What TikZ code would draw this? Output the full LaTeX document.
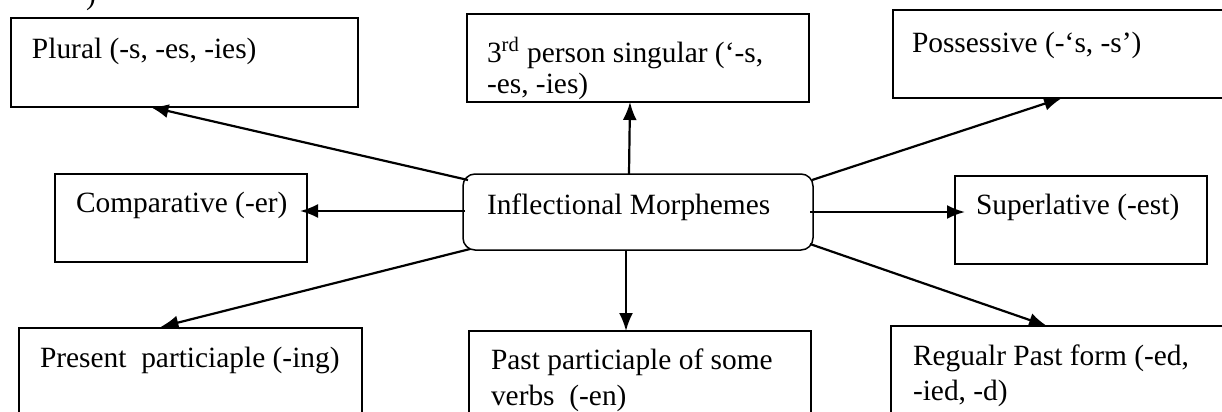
\documentclass[tikz,border=0pt]{standalone}
\usepackage{fontspec}
\setmainfont{Liberation Serif}
\usetikzlibrary{arrows.meta,calc}
\tikzset{
  box/.style={draw, line width=0.75pt, anchor=north west, inner sep=0pt, outer sep=0pt},
  hub/.style={box, rounded corners=6pt},
  lbl/.style={anchor=base west, inner sep=0pt, outer sep=0pt, align=left},
  arr/.style={line width=1.1pt, -{Latex[length=9pt,width=7pt]}}
}
\begin{document}
\begin{tikzpicture}[x=0.5pt,y=-0.5pt,font=\fontsize{14.7}{17}\selectfont]
\useasboundingbox (0,0) rectangle (1222,412);
% boxes
\node[box, minimum width=173.5pt, minimum height=44.5pt] (plural) at (11,18) {};
\node[box, minimum width=171pt, minimum height=44pt] (third) at (467,14) {};
\node[box, minimum width=165pt, minimum height=44pt] (poss) at (893,10) {};
\node[box, minimum width=126pt, minimum height=44pt] (comp) at (55,174) {};
\node[hub, minimum width=175pt, minimum height=38pt] (center) at (463,174) {};
\node[box, minimum width=126pt, minimum height=44pt] (sup) at (955,176) {};
\node[box, minimum width=171.5pt, minimum height=50pt] (pres) at (19,328) {};
\node[box, minimum width=171pt, minimum height=50pt] (past) at (469,331) {};
\node[box, minimum width=166pt, minimum height=50pt] (reg) at (891,326) {};
% texts
\node[lbl] (frag) at (86,4) {)};
\node[lbl] (tplural) at (32,58) {Plural (-s, -es, -ies)};
\node[lbl] (tthird) at (487,62) {3\textsuperscript{rd} person singular (‘-s,};
\node[lbl] (tthirdb) at (487,93) {-es, -ies)};
\node[lbl] (tposs) at (912,52) {Possessive (-‘s, -s’)};
\node[lbl] (tcomp) at (76,212) {Comparative (-er)};
\node[lbl] (tcenter) at (487,214) {Inflectional Morphemes};
\node[lbl] (tsup) at (976,214) {Superlative (-est)};
\node[lbl] (tpres) at (40,367) {Present\ \ particiaple (-ing)};
\node[lbl] (tpast) at (491,369) {Past particiaple of some};
\node[lbl] (tpastb) at (491,405) {verbs\ \ (-en)};
\node[lbl] (treg) at (913,365) {Regualr Past form (-ed,};
\node[lbl] (tregb) at (913,400) {-ied, -d)};
% connectors
\draw[arr] ($(center.north west)+(5,6)$) -- ($(plural.south)+(-34,0)$);
\draw[arr] ($(center.north)+(-9,0)$) -- ($(third.south)+(-8,0)$);
\draw[arr] ($(center.north east)+(-1,6)$) -- ($(poss.south)+(4,0)$);
\draw[arr] ($(center.west)+(2,-1)$) -- ($(comp.east)+(-7,-7)$);
\draw[arr] ($(center.east)+(-3,0)$) -- ($(sup.west)+(10,-8)$);
\draw[arr] ($(center.south west)+(7,-1)$) -- ($(pres.north)+(-30,-1)$);
\draw[arr] ($(center.south)+(-12,0)$) -- ($(past.north)+(-14,0)$);
\draw[arr] ($(center.south east)+(-3,-6)$) -- ($(reg.north)+(-10,0)$);
\end{tikzpicture}
\end{document}
